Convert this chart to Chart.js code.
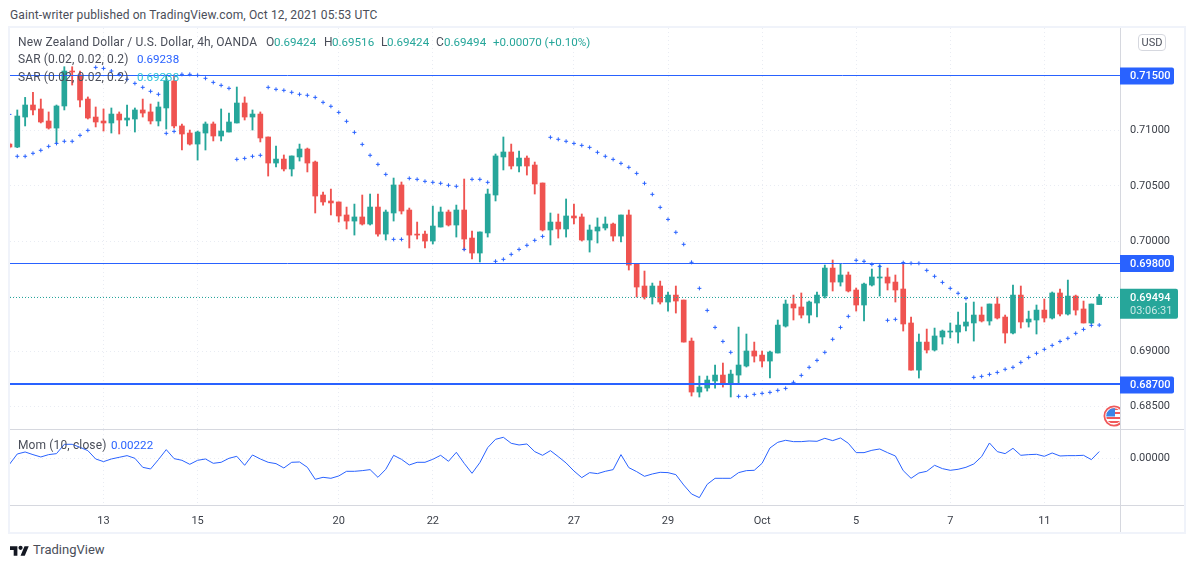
<!DOCTYPE html>
<html>
<head>
<meta charset="utf-8">
<title>NZDUSD 4h</title>
<script src="https://cdn.jsdelivr.net/npm/chart.js@4"></script>
<style>
  html, body { margin: 0; padding: 0; background: #fff; width: 1194px; height: 568px; overflow: hidden; }
  body { font-family: Roboto, sans-serif; font-size: 12px; color: #4a4e59; position: relative; }
  canvas { position: absolute; }
  .abs { position: absolute; white-space: nowrap; line-height: 14px; }
  .txt { letter-spacing: 0.13px; }
  .num { font-size: 11.6px; }
  .frame { position: absolute; background: #f0f3fa; }
  .sep { position: absolute; background: #d6d8df; }
  .up { color: #26a69a; }
  .blue { color: #2962ff; }
  .cyan { color: #2fc4d8; }
</style>
</head>
<body>
<div class="abs txt" style="left:10px;top:8px;">Gaint-writer published on TradingView.com, Oct 12, 2021 05:53 UTC</div>

<div class="frame" style="left:9px;top:26px;width:1176px;height:2px;"></div>
<div class="frame" style="left:9px;top:532px;width:1176px;height:2px;"></div>
<div class="frame" style="left:8px;top:26px;width:2px;height:508px;"></div>
<div class="frame" style="left:1184px;top:26px;width:2px;height:508px;"></div>

<canvas id="priceChart" style="left:10px;top:28px;"></canvas>
<canvas id="momChart" style="left:10px;top:430px;"></canvas>

<div class="sep" style="left:10px;top:429px;width:1174px;height:1px;"></div>
<div class="sep" style="left:10px;top:505px;width:1174px;height:1px;"></div>
<div class="sep" style="left:1120px;top:505px;width:1px;height:27px;"></div>

<div class="abs txt" style="left:18px;top:35px;">New Zealand Dollar / U.S. Dollar, 4h, OANDA</div>
<div class="abs" style="left:266px;top:35px;">O</div><div class="abs up num" style="left:274px;top:35px;">0.69424</div>
<div class="abs" style="left:324px;top:35px;">H</div><div class="abs up num" style="left:332px;top:35px;">0.69516</div>
<div class="abs" style="left:381px;top:35px;">L</div><div class="abs up num" style="left:387px;top:35px;">0.69424</div>
<div class="abs" style="left:436px;top:35px;">C</div><div class="abs up num" style="left:444px;top:35px;">0.69494</div>
<div class="abs up num" style="left:493px;top:35px;">+0.00070 (+0.10%)</div>

<div class="abs txt" style="left:18px;top:52px;">SAR (0.02, 0.02, 0.2)</div><div class="abs blue num" style="left:137px;top:52px;">0.69238</div>
<div class="abs txt" style="left:18px;top:70px;">SAR (0.02, 0.02, 0.2)</div><div class="abs cyan num" style="left:137px;top:70px;">0.69238</div>
<div class="abs txt" style="left:18px;top:438px;">Mom (10, close)</div><div class="abs blue num" style="left:111px;top:438px;">0.00222</div>

<div class="abs" style="left:1138px;top:34px;width:26px;height:15px;line-height:15px;border:1px solid #d6d8df;border-radius:4px;text-align:center;font-size:11px;">USD</div>

<svg style="position:absolute;left:1100px;top:402px;" width="20" height="28" viewBox="0 0 20 28">
  <clipPath id="flagClip"><circle cx="14" cy="14" r="7.8"/></clipPath>
  <circle cx="14" cy="14" r="9.6" fill="#fff" stroke="#f0595a" stroke-width="1.8"/>
  <g clip-path="url(#flagClip)">
    <rect x="6" y="6" width="14" height="2" fill="#f0595a"/>
    <rect x="6" y="10" width="14" height="2" fill="#f0595a"/>
    <rect x="6" y="15" width="14" height="2" fill="#f0595a"/>
    <rect x="6" y="19" width="14" height="2" fill="#f0595a"/>
    <rect x="6" y="6" width="9" height="8.5" fill="#3a86e8"/>
  </g>
</svg>

<svg style="position:absolute;left:10px;top:544px;" width="19" height="15" viewBox="0 0 36 28">
  <path fill="#131722" d="M14 22H7V11H0V4h14v18zM28 22h-8l7.5-18h8L28 22z"/>
  <circle fill="#131722" cx="20" cy="7" r="4"/>
</svg>
<div class="abs" style="left:33px;top:543px;font-size:13px;">TradingView</div>

<script>
'use strict';

// candles (first one is the sliver cut by the left edge)
const opens = [0.70879,
  0.70852,0.71124,0.71233,0.71197,0.71088,0.71024,0.71224,0.71541,0.71505,0.71287,
  0.71124,0.71088,0.71070,0.71151,0.71097,0.71106,0.71188,0.71170,0.71088,0.71206,
  0.71451,0.71043,0.70979,0.70879,0.70979,0.71061,0.70952,0.70988,0.71070,0.71251,
  0.71124,0.71151,0.70943,0.70707,0.70743,0.70653,0.70762,0.70834,0.70716,0.70417,
  0.70363,0.70354,0.70236,0.70181,0.70218,0.70154,0.70308,0.70063,0.70254,0.70508,
  0.70281,0.70063,0.70063,0.70000,0.70127,0.70263,0.70145,0.70281,0.70027,0.69891,
  0.70073,0.70417,0.70762,0.70807,0.70680,0.70752,0.70689,0.70526,0.70100,0.70172,
  0.70109,0.70227,0.70218,0.70009,0.70091,0.70118,0.70154,0.70045,0.70236,0.69791,
  0.69592,0.69492,0.69592,0.69447,0.69510,0.69465,0.69093,0.68631,0.68667,0.68731,
  0.68785,0.68704,0.68785,0.68867,0.69003,0.68966,0.68912,0.68985,0.69229,0.69429,
  0.69402,0.69329,0.69438,0.69501,0.69755,0.69628,0.69692,0.69556,0.69420,0.69601,
  0.69665,0.69674,0.69628,0.69565,0.69257,0.68830,0.69084,0.69012,0.69130,0.69175,
  0.69175,0.69229,0.69257,0.69329,0.69275,0.69429,0.69311,0.69166,0.69510,0.69266,
  0.69284,0.69374,0.69302,0.69529,0.69338,0.69501,0.69384,0.69257,0.69424];
const highs = [0.70888,
  0.71188,0.71302,0.71348,0.71287,0.71170,0.71233,0.71580,0.71580,0.71541,0.71306,
  0.71215,0.71197,0.71206,0.71170,0.71233,0.71206,0.71287,0.71242,0.71260,0.71505,
  0.71505,0.71061,0.71006,0.70997,0.71079,0.71079,0.71197,0.71160,0.71396,0.71306,
  0.71188,0.71170,0.70943,0.70861,0.70780,0.70771,0.70879,0.70843,0.70725,0.70444,
  0.70471,0.70354,0.70308,0.70335,0.70417,0.70426,0.70426,0.70281,0.70571,0.70535,
  0.70299,0.70172,0.70091,0.70317,0.70308,0.70281,0.70326,0.70562,0.70091,0.70082,
  0.70471,0.70789,0.70943,0.70879,0.70816,0.70771,0.70716,0.70526,0.70254,0.70245,
  0.70381,0.70335,0.70245,0.70145,0.70209,0.70218,0.70163,0.70236,0.70281,0.69791,
  0.69728,0.69619,0.69637,0.69538,0.69592,0.69465,0.69121,0.68776,0.68776,0.68876,
  0.68894,0.68830,0.69220,0.69157,0.69084,0.69003,0.69003,0.69284,0.69465,0.69510,
  0.69529,0.69456,0.69538,0.69782,0.69828,0.69798,0.69719,0.69574,0.69619,0.69746,
  0.69782,0.69755,0.69692,0.69807,0.69311,0.69157,0.69202,0.69211,0.69193,0.69257,
  0.69356,0.69438,0.69447,0.69402,0.69429,0.69492,0.69329,0.69601,0.69592,0.69365,
  0.69420,0.69474,0.69538,0.69565,0.69646,0.69510,0.69456,0.69429,0.69516];
const lows = [0.70843,
  0.70846,0.71043,0.71142,0.71070,0.71015,0.70885,0.71188,0.71414,0.71215,0.71106,
  0.71034,0.70997,0.70979,0.70970,0.71043,0.70988,0.71124,0.71061,0.71043,0.71015,
  0.71024,0.70825,0.70870,0.70734,0.70825,0.70907,0.70907,0.70988,0.71070,0.71097,
  0.71006,0.70898,0.70589,0.70671,0.70635,0.70589,0.70725,0.70626,0.70254,0.70326,
  0.70236,0.70172,0.70109,0.70054,0.70145,0.70145,0.70045,0.70009,0.70181,0.70245,
  0.69937,0.70018,0.69937,0.69973,0.70127,0.70136,0.70036,0.69918,0.69837,0.69810,
  0.70036,0.70363,0.70644,0.70653,0.70626,0.70598,0.70426,0.70091,0.69964,0.70027,
  0.70036,0.70154,0.70000,0.69900,0.69982,0.70100,0.70000,0.69991,0.69737,0.69492,
  0.69474,0.69429,0.69429,0.69365,0.69347,0.69084,0.68595,0.68586,0.68640,0.68667,
  0.68676,0.68586,0.68704,0.68858,0.68903,0.68858,0.68758,0.68985,0.69220,0.69284,
  0.69302,0.69257,0.69311,0.69483,0.69547,0.69592,0.69538,0.69365,0.69275,0.69592,
  0.69501,0.69556,0.69447,0.69184,0.68830,0.68758,0.68985,0.69003,0.69066,0.69121,
  0.69075,0.69184,0.69093,0.69266,0.69238,0.69293,0.69075,0.69157,0.69211,0.69220,
  0.69157,0.69266,0.69293,0.69320,0.69329,0.69329,0.69257,0.69248,0.69424];
const closes = [0.70852,
  0.71133,0.71233,0.71188,0.71079,0.71024,0.71224,0.71541,0.71532,0.71278,0.71115,
  0.71079,0.71070,0.71151,0.71097,0.71115,0.71188,0.71160,0.71088,0.71215,0.71451,
  0.71043,0.70970,0.70879,0.70988,0.71061,0.70952,0.70997,0.71079,0.71251,0.71124,
  0.71151,0.70934,0.70707,0.70743,0.70653,0.70771,0.70834,0.70707,0.70408,0.70354,
  0.70345,0.70227,0.70181,0.70218,0.70154,0.70308,0.70063,0.70263,0.70508,0.70272,
  0.70054,0.70054,0.70000,0.70136,0.70263,0.70145,0.70281,0.70018,0.69891,0.70082,
  0.70426,0.70771,0.70807,0.70680,0.70752,0.70680,0.70517,0.70100,0.70172,0.70109,
  0.70227,0.70209,0.70009,0.70100,0.70127,0.70154,0.70045,0.70236,0.69782,0.69583,
  0.69492,0.69592,0.69447,0.69510,0.69456,0.69084,0.68631,0.68676,0.68740,0.68785,
  0.68704,0.68794,0.68876,0.69003,0.68957,0.68912,0.68994,0.69238,0.69429,0.69393,
  0.69329,0.69447,0.69510,0.69755,0.69628,0.69692,0.69547,0.69420,0.69610,0.69674,
  0.69674,0.69619,0.69556,0.69248,0.68830,0.69084,0.69012,0.69139,0.69184,0.69184,
  0.69238,0.69266,0.69329,0.69275,0.69429,0.69302,0.69166,0.69510,0.69266,0.69293,
  0.69374,0.69302,0.69529,0.69338,0.69501,0.69374,0.69257,0.69429,0.69494];

const sarValues = [0.71148,
  0.70768,0.70768,0.70795,0.70822,0.70858,0.70885,0.70904,0.70904,0.70958,0.71003,
  0.71574,0.71565,0.71541,0.71511,0.71466,0.71429,0.71393,0.71357,0.71330,0.70976,
  0.70994,0.71511,0.71511,0.71502,0.71475,0.71438,0.71411,0.71384,0.70740,0.70749,
  0.70768,0.70777,0.71393,0.71375,0.71366,0.71348,0.71330,0.71321,0.71302,0.71257,
  0.71221,0.71166,0.71085,0.70985,0.70876,0.70777,0.70695,0.70604,0.70015,0.70015,
  0.70568,0.70559,0.70541,0.70532,0.70523,0.70505,0.70496,0.69924,0.70559,0.70559,
  0.70532,0.69816,0.69834,0.69879,0.69924,0.69961,0.70006,0.70042,0.70940,0.70922,
  0.70904,0.70885,0.70867,0.70849,0.70804,0.70768,0.70740,0.70704,0.70668,0.70613,
  0.70523,0.70423,0.70305,0.70196,0.70079,0.69970,0.69807,0.69571,0.69371,0.69217,
  0.69090,0.68991,0.68592,0.68592,0.68610,0.68619,0.68628,0.68646,0.68664,0.68719,
  0.68782,0.68855,0.68918,0.68991,0.69109,0.69217,0.69317,0.69825,0.69816,0.69788,
  0.69770,0.69281,0.69290,0.69804,0.69798,0.69798,0.69734,0.69680,0.69625,0.69571,
  0.69526,0.69480,0.68764,0.68773,0.68791,0.68809,0.68837,0.68855,0.68900,0.68945,
  0.68982,0.69018,0.69054,0.69090,0.69118,0.69163,0.69199,0.69235,0.69238];

const momValues = [-0.00198,
  0.00143,0.00209,0.00121,0.00044,0.00121,0.00154,0.00462,0.00462,0.00363,0.00253,
  -0.00022,-0.00110,-0.00022,0.00033,0.00088,0.00000,-0.00297,-0.00352,-0.00044,0.00286,
  -0.00011,-0.00066,-0.00198,-0.00066,-0.00022,-0.00165,-0.00132,0.00000,0.00066,-0.00231,
  0.00110,-0.00022,-0.00132,-0.00176,-0.00319,-0.00132,-0.00121,-0.00297,-0.00693,-0.00627,
  -0.00660,-0.00583,-0.00429,-0.00429,-0.00407,-0.00374,-0.00627,-0.00363,0.00099,-0.00033,
  -0.00220,-0.00132,-0.00132,-0.00033,0.00099,-0.00099,0.00198,-0.00165,-0.00495,-0.00143,
  0.00352,0.00627,0.00693,0.00495,0.00440,0.00473,0.00220,0.00099,0.00253,0.00055,
  -0.00154,-0.00418,-0.00638,-0.00473,-0.00506,-0.00429,-0.00374,0.00121,-0.00308,-0.00440,
  -0.00594,-0.00517,-0.00462,-0.00473,-0.00539,-0.00880,-0.01177,-0.01298,-0.00858,-0.00660,
  -0.00660,-0.00660,-0.00473,-0.00407,-0.00396,-0.00165,0.00341,0.00528,0.00594,0.00550,
  0.00550,0.00572,0.00561,0.00660,0.00583,0.00671,0.00495,0.00187,0.00187,0.00264,
  0.00308,0.00187,0.00077,-0.00407,-0.00660,-0.00484,-0.00429,-0.00231,-0.00341,-0.00396,
  -0.00363,-0.00297,-0.00187,0.00055,0.00506,0.00220,0.00154,0.00330,0.00099,0.00121,
  0.00132,0.00066,0.00176,0.00077,0.00088,0.00088,0.00099,-0.00044,0.00222];

const dayTickBars = [12, 24, 42, 54, 72, 84, 96, 108, 120, 132];
const dayTickLabels = ['13', '15', '20', '22', '27', '29', 'Oct', '5', '7', '11'];
const priceTicks = [0.685, 0.69, 0.695, 0.70, 0.705, 0.71, 0.715];
const priceTickLabels = ['0.68500', '0.69000', '', '0.70000', '0.70500', '0.71000', ''];
const levelPrices = [0.715, 0.698, 0.687];
const levelWidths = [1, 1, 2];
const lastPrice = 0.69494;
const countdown = '03:06:31';
const momTicks = [0];
const momTickLabels = ['0.00000'];

const GREEN = '#26a69a';
const RED = '#ef5350';
const BLUE = '#2962ff';
const GRID = '#e9ecf3';
const AXIS = '#d6d8df';
const TEXT = '#3c4049';
const AXIS_FONT = { family: 'Roboto', size: 11 };

// x range so bar 1 lands where it does in the picture, same in both panes
const X_MIN = 0.07;
const X_MAX = 141.65;
const AXIS_WIDTH = 64;

Chart.defaults.animation = false;
Chart.defaults.devicePixelRatio = 1;
Chart.defaults.responsive = false;

function setSize(id, w, h) {
  let el = document.getElementById(id);
  el.width = w;
  el.height = h;
  el.style.width = w + 'px';
  el.style.height = h + 'px';
  return el;
}

function xAxis(showLabels, height) {
  return {
    type: 'linear',
    min: X_MIN,
    max: X_MAX,
    offset: false,
    border: { display: false, dash: [1, 3] },
    grid: { color: GRID, drawTicks: false, offset: false },
    afterBuildTicks: function (scale) {
      scale.ticks = dayTickBars.map(v => ({ value: v }));
    },
    afterFit: function (scale) {
      scale.height = height;
      scale.paddingLeft = 0;
      scale.paddingRight = 0;
    },
    ticks: {
      display: showLabels,
      autoSkip: false,
      maxRotation: 0,
      padding: 10,
      color: TEXT,
      font: AXIS_FONT,
      callback: function (v) {
        return dayTickLabels[dayTickBars.indexOf(v)];
      }
    }
  };
}

function yAxis(min, max, values, labels) {
  return {
    position: 'right',
    min: min,
    max: max,
    border: { display: true, color: AXIS, dash: [1, 3] },
    grid: { color: GRID, drawTicks: false },
    afterBuildTicks: function (scale) {
      scale.ticks = values.map(v => ({ value: v }));
    },
    afterFit: function (scale) {
      // tick padding otherwise eats into the plot height
      scale.width = AXIS_WIDTH;
      scale.paddingTop = 0;
      scale.paddingBottom = 0;
    },
    ticks: {
      padding: 10,
      color: TEXT,
      font: AXIS_FONT,
      autoSkip: false,
      callback: function (v) {
        return labels[values.indexOf(v)];
      }
    }
  };
}

// horizontal levels snapped to whole pixels, over the candles
const levelLines = {
  id: 'levelLines',
  afterDatasetsDraw: function (chart) {
    let ctx = chart.ctx;
    let y = chart.scales.y;
    let area = chart.chartArea;
    ctx.save();
    ctx.strokeStyle = BLUE;
    levelPrices.forEach(function (p, i) {
      let raw = y.getPixelForValue(p);
      let py = levelWidths[i] % 2 ? Math.floor(raw) + 0.5 : Math.round(raw);
      ctx.lineWidth = levelWidths[i];
      ctx.beginPath();
      ctx.moveTo(area.left, py);
      ctx.lineTo(area.right, py);
      ctx.stroke();
    });
    let lastY = Math.round(y.getPixelForValue(lastPrice)) + 0.5;
    ctx.strokeStyle = GREEN;
    ctx.lineWidth = 1;
    ctx.setLineDash([1, 2]);
    ctx.beginPath();
    ctx.moveTo(area.left, lastY);
    ctx.lineTo(area.right, lastY);
    ctx.stroke();
    ctx.restore();
  }
};

// coloured price tags on the right axis
const priceTags = {
  id: 'priceTags',
  afterDraw: function (chart) {
    let ctx = chart.ctx;
    let y = chart.scales.y;
    let left = chart.chartArea.right;
    ctx.save();
    ctx.textBaseline = 'middle';
    ctx.textAlign = 'left';
    levelPrices.forEach(function (p) {
      let py = y.getPixelForValue(p);
      ctx.fillStyle = BLUE;
      ctx.beginPath();
      ctx.roundRect(left, py - 8, 54, 17, [0, 2, 2, 0]);
      ctx.fill();
      ctx.fillStyle = '#fff';
      ctx.font = '500 11px Roboto';
      ctx.fillText(p.toFixed(5), left + 10, py + 1);
    });
    let py = y.getPixelForValue(lastPrice);
    ctx.fillStyle = GREEN;
    ctx.beginPath();
    ctx.roundRect(left, py - 8, 58, 30, [0, 2, 2, 0]);
    ctx.fill();
    ctx.fillStyle = '#fff';
    ctx.font = '500 11px Roboto';
    ctx.fillText(lastPrice.toFixed(5), left + 10, py + 1);
    ctx.fillStyle = 'rgba(255,255,255,0.75)';
    ctx.font = '11px Roboto';
    ctx.fillText(countdown, left + 10, py + 14);
    ctx.restore();
  }
};

const bars = opens.map((o, i) => i);
const candleColors = opens.map((o, i) => (closes[i] >= o ? GREEN : RED));

setSize('priceChart', 1174, 401);
setSize('momChart', 1174, 102);

new Chart(document.getElementById('priceChart'), {
  type: 'bar',
  data: {
    datasets: [
      {
        type: 'line',
        order: 0,
        showLine: false,
        data: bars.map(i => ({ x: i, y: sarValues[i] })),
        pointStyle: 'cross',
        pointRadius: 2,
        pointBorderWidth: 1,
        pointBorderColor: BLUE
      },
      {
        // candle bodies
        order: 3,
        grouped: false,
        barThickness: 5,
        minBarLength: 1,
        data: bars.map(i => ({ x: i, y: [opens[i], closes[i]] })),
        backgroundColor: candleColors
      },
      {
        // candle wicks
        order: 4,
        grouped: false,
        barThickness: 1.2,
        data: bars.map(i => ({ x: i, y: [lows[i], highs[i]] })),
        backgroundColor: candleColors
      }
    ]
  },
  options: {
    layout: { padding: 0, autoPadding: false },
    plugins: { legend: { display: false }, tooltip: { enabled: false } },
    scales: {
      x: xAxis(false, 0),
      y: yAxis(0.68296, 0.71931, priceTicks, priceTickLabels)
    }
  },
  plugins: [levelLines, priceTags]
});

new Chart(document.getElementById('momChart'), {
  type: 'line',
  data: {
    datasets: [{
      data: bars.map(i => ({ x: i, y: momValues[i] })),
      borderColor: BLUE,
      borderWidth: 1,
      pointRadius: 0,
      tension: 0
    }]
  },
  options: {
    layout: { padding: 0, autoPadding: false },
    plugins: { legend: { display: false }, tooltip: { enabled: false } },
    scales: {
      x: xAxis(true, 27),
      y: yAxis(-0.01541, 0.00934, momTicks, momTickLabels)
    }
  }
});
</script>
</body>
</html>
